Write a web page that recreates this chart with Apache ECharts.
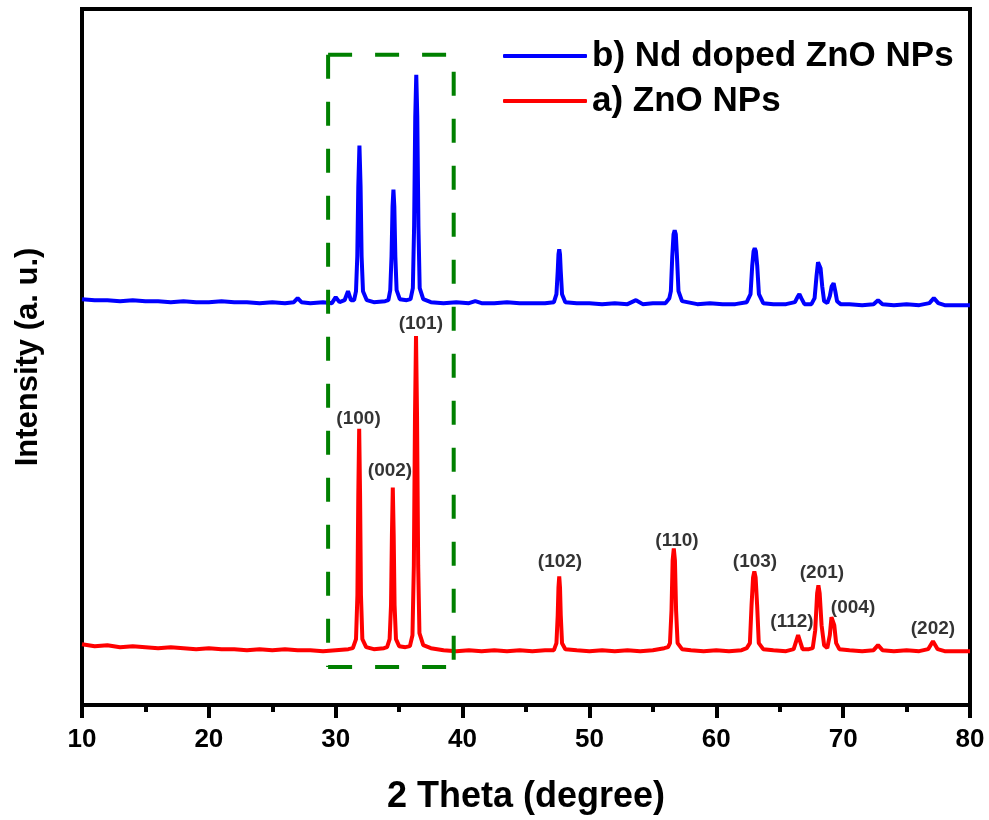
<!DOCTYPE html>
<html>
<head>
<meta charset="utf-8">
<title>XRD ZnO / Nd doped ZnO</title>
<script src="https://cdn.jsdelivr.net/npm/echarts@6/dist/echarts.min.js"></script>
<style>
  html, body { margin: 0; padding: 0; background: #fff; }
  #chart { width: 989px; height: 820px; }
</style>
</head>
<body>
<div id="chart"></div>
<script>
// 2θ / intensity pairs (arbitrary units, stacked patterns)
const zno = [
  [10, 61], [11, 59], [12, 60], [13, 58], [14, 59], [15, 58], [16, 57], [17, 58], [18, 57], [19, 56],
  [20, 57], [21, 56], [22, 56], [23, 55], [24, 56], [25, 55], [26, 56], [27, 55], [28, 55], [29, 54],
  [30, 55], [31, 56],
  [31.35, 57], [31.6, 66], [31.71, 110], [31.78, 210], [31.85, 277], [31.92, 210], [31.99, 110], [32.1, 66], [32.4, 58],
  [33, 56], [33.8, 57],
  [34.05, 58], [34.25, 66], [34.36, 100], [34.43, 170], [34.5, 218], [34.57, 170], [34.64, 100], [34.75, 66], [35.0, 59],
  [35.5, 58],
  [35.85, 59], [36.05, 70], [36.16, 140], [36.25, 290], [36.33, 370], [36.41, 290], [36.5, 140], [36.6, 72], [36.9, 60],
  [37.5, 57], [38.5, 55], [39.5, 54], [40.5, 55], [41.5, 54], [42.5, 55], [43.5, 54], [44.5, 55], [45.5, 54], [46.5, 55],
  [47.2, 55], [47.4, 62], [47.5, 90], [47.56, 118], [47.62, 129], [47.68, 118], [47.74, 90], [47.84, 62], [48.1, 56],
  [49, 55], [50, 54], [51, 55], [52, 54], [53, 55], [54, 54], [55, 55], [55.9, 57], [56.2, 58],
  [56.35, 62], [56.47, 95], [56.56, 145], [56.65, 157], [56.74, 145], [56.83, 95], [56.95, 62], [57.3, 56],
  [58, 55], [59, 54], [60, 55], [61, 54], [62, 55], [62.4, 57],
  [62.65, 62], [62.78, 100], [62.9, 128], [63.0, 134], [63.1, 128], [63.22, 100], [63.35, 62], [63.7, 56],
  [64.5, 55], [65.5, 54], [66.1, 56],
  [66.3, 64], [66.45, 70], [66.6, 64], [66.8, 56], [67.3, 56],
  [67.6, 57], [67.8, 75], [67.95, 112], [68.05, 120], [68.15, 112], [68.3, 80], [68.5, 60], [68.75, 57],
  [68.95, 70], [69.08, 88], [69.18, 90], [69.3, 80], [69.45, 62], [69.7, 56],
  [70.5, 55], [71.5, 54], [72.4, 55], [72.75, 60], [73.1, 55], [74, 54], [75, 55], [76, 54],
  [76.7, 56], [77.08, 64], [77.45, 56], [78, 54], [79, 54], [80, 54]
]

const ndZno = [
  [10, 407], [11, 406], [12, 406], [13, 405], [14, 406], [15, 405], [16, 405], [17, 404], [18, 405], [19, 404],
  [20, 404], [21, 405], [22, 404], [23, 404], [24, 403], [25, 404], [26, 403], [26.7, 404], [27.0, 408], [27.3, 404],
  [28, 403], [29, 404], [29.7, 403], [30.0, 409], [30.3, 404], [30.7, 406], [30.97, 415], [31.2, 406], [31.45, 406],
  [31.6, 415], [31.7, 450], [31.78, 520], [31.87, 561], [31.96, 520], [32.04, 450], [32.15, 415], [32.45, 406],
  [33, 404], [33.9, 405],
  [34.15, 406], [34.3, 416], [34.4, 450], [34.48, 500], [34.55, 517], [34.62, 500], [34.7, 450], [34.8, 416], [35.05, 407],
  [35.6, 406],
  [35.9, 407], [36.08, 418], [36.18, 480], [36.27, 590], [36.35, 632], [36.43, 590], [36.52, 480], [36.62, 418], [36.9, 407],
  [37.5, 404], [38.5, 403], [39.5, 404], [40.5, 403], [41, 405], [41.5, 403], [42.5, 403], [43.5, 404], [44.5, 403],
  [45.5, 403], [46.5, 403],
  [47.2, 404], [47.4, 412], [47.5, 435], [47.56, 452], [47.62, 457], [47.68, 452], [47.74, 435], [47.84, 412], [48.1, 404],
  [49, 403], [50, 403], [51, 402], [52, 403], [53, 402], [53.67, 406], [54.2, 402], [55, 403], [56, 403], [56.3, 408],
  [56.42, 415], [56.53, 450], [56.63, 472], [56.72, 476], [56.81, 472], [56.9, 450], [57.02, 415], [57.3, 405], [57.7, 404],
  [58.5, 402], [59.5, 403], [60.5, 402], [61.5, 402], [62.4, 404],
  [62.7, 412], [62.83, 440], [62.94, 455], [63.03, 458], [63.12, 455], [63.23, 440], [63.36, 412], [63.7, 403],
  [64.5, 402], [65.5, 402], [66.2, 404],
  [66.4, 409], [66.55, 412], [66.7, 408], [66.95, 402], [67.5, 402],
  [67.75, 408], [67.9, 430], [68.02, 444], [68.12, 446], [68.22, 438], [68.35, 420], [68.5, 405], [68.75, 403],
  [68.95, 410], [69.1, 420], [69.25, 423], [69.38, 415], [69.52, 405], [69.8, 402],
  [70.5, 402], [71.5, 401], [72.4, 402], [72.75, 406], [73.1, 402], [74, 401], [75, 402], [76, 401],
  [76.8, 403], [77.15, 408], [77.5, 403], [78, 401], [79, 401], [80, 401]
]

// Miller indices and where their labels sit
const peakNames = ['(100)', '(002)', '(101)', '(102)', '(110)', '(103)', '(112)', '(201)', '(004)', '(202)']
const labelX = [31.8, 34.28, 36.71, 47.68, 56.9, 63.05, 65.97, 68.33, 70.78, 77.08]
const labelY = [287, 235, 382, 144, 165, 144, 83, 133, 98, 76]

// highlighted 2θ window (dashed box)
const boxX = [29.4, 39.3]
const boxY = [38, 652]

const seriesNames = ['b) Nd doped ZnO NPs', 'a) ZnO NPs']

const font = "'Liberation Sans', Arial, sans-serif"

const chart = echarts.init(document.getElementById('chart'))

const boxData = [
  [boxX[0], boxY[1]], [boxX[1], boxY[1]], [boxX[1], '-'],
  [boxX[1], boxY[1] - 17], [boxX[1], boxY[0]], [boxX[0], '-'],
  [boxX[0], boxY[1]], [boxX[0], boxY[0]], [boxX[0], '-'],
  [boxX[0], boxY[0]], [boxX[1], boxY[0]]
]

chart.setOption({
  animation: false,
  backgroundColor: '#fff',
  grid: {
    left: 82, right: 19, top: 9, bottom: 113,
    show: true, borderColor: '#000', borderWidth: 4
  },
  legend: {
    data: seriesNames,
    orient: 'vertical',
    left: 498,
    top: 32,
    icon: 'roundRect',
    itemWidth: 84,
    itemHeight: 4,
    itemGap: 7,
    textStyle: { fontFamily: font, fontSize: 35, fontWeight: 'bold', color: '#000', lineHeight: 38 }
  },
  xAxis: {
    type: 'value',
    min: 10, max: 80, interval: 10,
    name: '2 Theta (degree)',
    nameLocation: 'middle',
    nameGap: 74,
    nameTextStyle: { fontFamily: font, fontSize: 36, fontWeight: 'bold', color: '#000' },
    axisLine: { lineStyle: { color: '#000', width: 4 } },
    axisTick: { inside: false, length: 13, lineStyle: { color: '#000', width: 4 } },
    minorTick: { show: true, splitNumber: 2, length: 7, lineStyle: { color: '#000', width: 4 } },
    axisLabel: { margin: 22, fontFamily: font, fontSize: 26, fontWeight: 'bold', color: '#000' },
    splitLine: { show: false }
  },
  yAxis: {
    type: 'value',
    min: 0, max: 698,
    name: 'Intensity (a. u.)',
    nameLocation: 'middle',
    nameGap: 38,
    nameTextStyle: { fontFamily: font, fontSize: 31, fontWeight: 'bold', color: '#000' },
    axisLine: { show: true, lineStyle: { color: '#000', width: 4 } },
    axisTick: { show: false },
    axisLabel: { show: false },
    splitLine: { show: false }
  },
  series: [
    {
      name: seriesNames[0],
      type: 'line',
      data: ndZno,
      symbol: 'none',
      lineStyle: { color: '#0000ff', width: 4 },
      itemStyle: { color: '#0000ff' }
    },
    {
      name: seriesNames[1],
      type: 'line',
      data: zno,
      symbol: 'none',
      lineStyle: { color: '#ff0000', width: 4 },
      itemStyle: { color: '#ff0000' }
    },
    {
      type: 'line',
      data: boxData,
      symbol: 'none',
      connectNulls: false,
      z: 5,
      silent: true,
      lineStyle: { color: '#008000', width: 4, type: [24, 23] }
    },
    {
      type: 'scatter',
      symbolSize: 1,
      silent: true,
      z: 6,
      itemStyle: { color: 'transparent' },
      data: peakNames.map((n, i) => ({ name: n, value: [labelX[i], labelY[i]] })),
      label: {
        show: true,
        position: 'inside',
        formatter: p => p.name,
        fontFamily: font,
        fontSize: 19,
        fontWeight: 'bold',
        color: '#000'
      }
    }
  ]
})
</script>
</body>
</html>
